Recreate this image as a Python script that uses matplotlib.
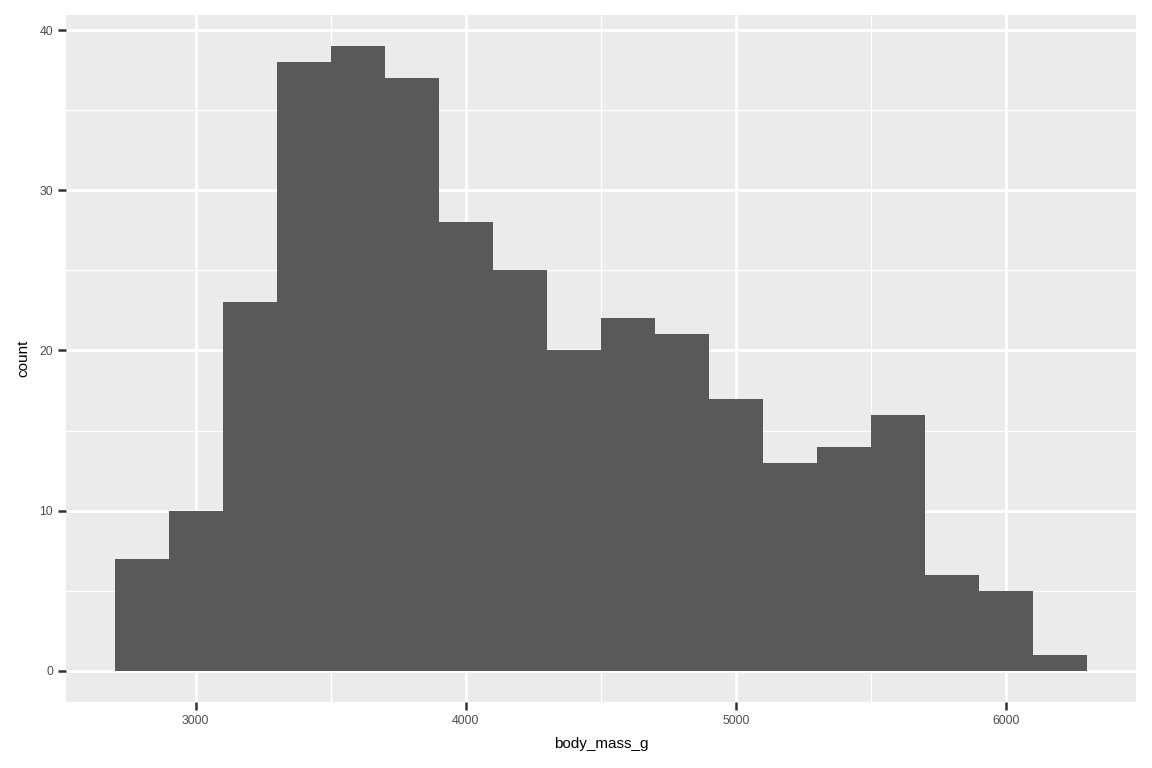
import numpy as np
import matplotlib
matplotlib.use('Agg')
import matplotlib.pyplot as plt

# histogram of penguin body mass, binwidth 200
bin_edges = [2700, 2900, 3100, 3300, 3500, 3700, 3900, 4100, 4300, 4500,
             4700, 4900, 5100, 5300, 5500, 5700, 5900, 6100, 6300]
counts = [7, 10, 23, 38, 39, 37, 28, 25, 20, 22, 21, 17, 13, 14, 16, 6, 5, 1]
x_ticks = [3000, 4000, 5000, 6000]
y_ticks = [0, 10, 20, 30, 40]

plt.rcParams['font.family'] = ['Liberation Sans', 'DejaVu Sans']

fig = plt.figure(figsize=(11.52, 7.68), dpi=100)
ax = fig.add_axes([66 / 1152, 66 / 768, 1070 / 1152, 687 / 768])
ax.set_facecolor('#EBEBEB')

edges = np.array(bin_edges)
ax.bar(edges[:-1], counts, width=np.diff(edges), align='edge',
       color='#595959', edgecolor='none', zorder=3)

xr = edges[-1] - edges[0]
ax.set_xlim(edges[0] - 0.05 * xr, edges[-1] + 0.05 * xr)
yr = max(counts)
ax.set_ylim(-0.05 * yr, yr * 1.05)

ax.set_xticks(x_ticks)
ax.set_yticks(y_ticks)
ax.set_xticks([3500, 4500, 5500], minor=True)
ax.set_yticks([5, 15, 25, 35], minor=True)
ax.grid(which='major', color='white', linewidth=2.0, zorder=1)
ax.grid(which='minor', color='white', linewidth=1.0, zorder=1)
ax.set_axisbelow(True)

for s in ax.spines.values():
    s.set_visible(False)

ax.tick_params(which='major', length=5.8, width=1.8, color='#333333',
               labelsize=8.8, labelcolor='#4D4D4D', pad=3.5)
ax.tick_params(which='minor', length=0)

ax.set_xlabel('body_mass_g', fontsize=11, color='black', labelpad=7)
ax.set_ylabel('count', fontsize=11, color='black', labelpad=6.5)

fig.savefig('out.png', dpi=100)
